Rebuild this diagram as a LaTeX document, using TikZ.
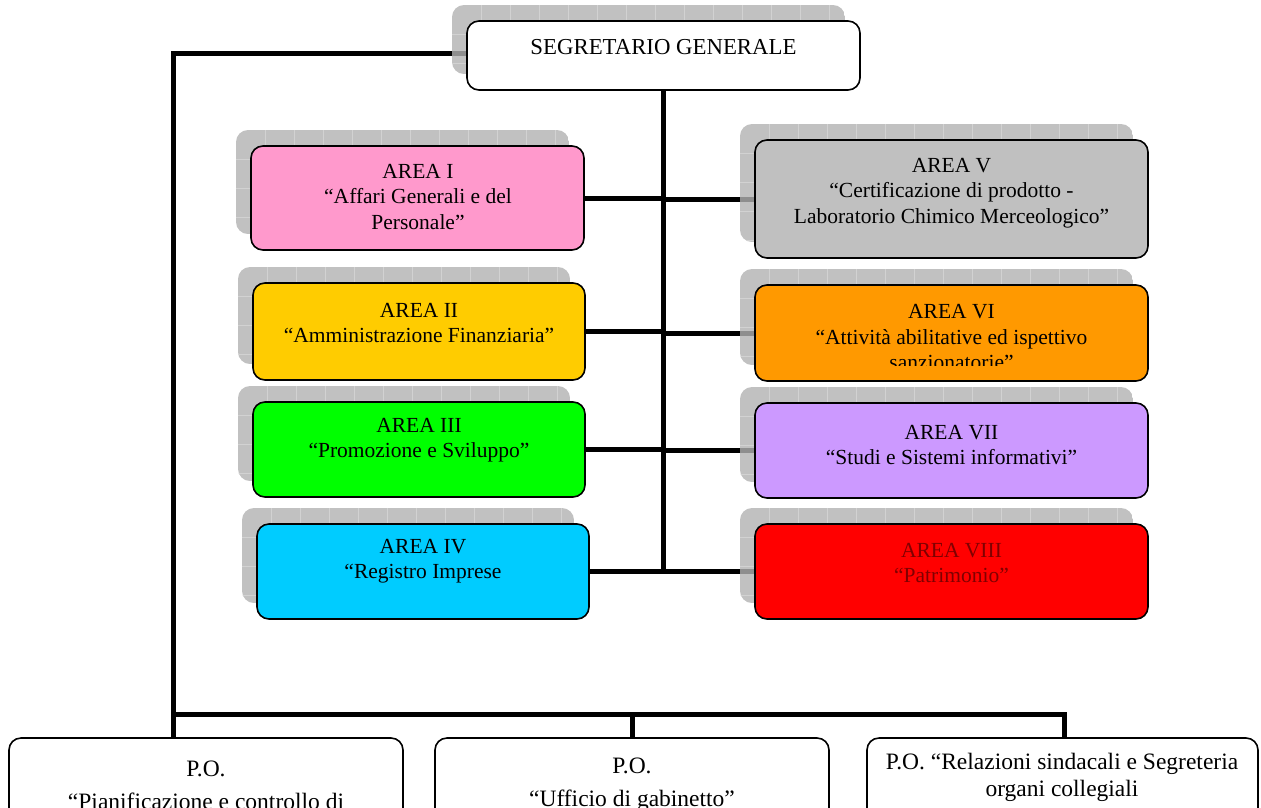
\documentclass[tikz,border=0pt]{standalone}
\usepackage{fontspec}
\setmainfont{Liberation Serif}
\usetikzlibrary{calc}
\pgfdeclarelayer{bg}
\pgfdeclarelayer{shade}
\pgfsetlayers{bg,shade,main}
\definecolor{cpink}{HTML}{FF99CC}
\definecolor{cyellow}{HTML}{FFCC00}
\definecolor{cgreen}{HTML}{00FF00}
\definecolor{ccyan}{HTML}{00CCFF}
\definecolor{cgrey}{HTML}{C0C0C0}
\definecolor{corange}{HTML}{FF9900}
\definecolor{cviolet}{HTML}{CC99FF}
\definecolor{cred}{HTML}{FF0000}
\definecolor{cdarkred}{HTML}{800000}
\definecolor{shadowgray}{HTML}{B2B2B2}
\definecolor{gridgray}{HTML}{D2D2D2}
\tikzset{
  box/.style={draw=black, line width=1.6pt, rounded corners=12pt, inner sep=0pt, outer sep=0pt},
  conn/.style={line width=5pt, line join=miter},
  lbl/.style={font=\fontsize{21.5}{25.5}\selectfont, align=center, inner sep=0pt, text=black},
  sglbl/.style={font=\fontsize{22.8}{26}\selectfont, align=center, inner sep=0pt, text=black},
  polbl/.style={font=\fontsize{23.5}{27}\selectfont, align=center, inner sep=0pt, text=black},
}
\newcommand{\shadowof}[1]{%
  \begin{scope}
    \clip[rounded corners=12pt] ($(#1.north west)+(-15,-16)$) rectangle ($(#1.south east)+(-15,-16)$);
    \fill[shadowgray, opacity=0.8] ($(#1.north west)+(-15,-16)$) rectangle ($(#1.south east)+(-15,-16)$);
    \begin{scope}[shift={($(#1.north west)+(-15,-16)$)}]
      \foreach \k in {1,...,14} \draw[gridgray, line width=0.8pt] (29*\k,0) -- (29*\k,140);
      \foreach \k in {1,...,4} \draw[gridgray, line width=0.8pt] (0,29*\k) -- (420,29*\k);
    \end{scope}
  \end{scope}}
\begin{document}
\begin{tikzpicture}[x=1pt, y=-1pt]
\useasboundingbox (0,0) rectangle (1261,807);
\clip (0,0) rectangle (1261,807);

% boxes
\node[box, fill=white,   minimum width=393pt, minimum height=69pt]  (sg) at (663.5,55.5) {};
\node[box, fill=cpink,   minimum width=333pt, minimum height=104pt] (a1) at (417.5,198) {};
\node[box, fill=cyellow, minimum width=332pt, minimum height=97pt]  (a2) at (419,331.5) {};
\node[box, fill=cgreen,  minimum width=332pt, minimum height=95pt]  (a3) at (419,449.5) {};
\node[box, fill=ccyan,   minimum width=332pt, minimum height=95pt]  (a4) at (423,571.5) {};
\node[box, fill=cgrey,   minimum width=393pt, minimum height=118pt] (a5) at (951.5,199) {};
\node[box, fill=corange, minimum width=393pt, minimum height=96pt]  (a6) at (951.5,333) {};
\node[box, fill=cviolet, minimum width=393pt, minimum height=95pt]  (a7) at (951.5,450.5) {};
\node[box, fill=cred,    minimum width=393pt, minimum height=95pt]  (a8) at (951.5,571.5) {};
\node[box, fill=white,   minimum width=394pt, minimum height=102pt] (po1) at (206,789) {};
\node[box, fill=white,   minimum width=394pt, minimum height=102pt] (po2) at (632,789) {};
\node[box, fill=white,   minimum width=391pt, minimum height=102pt] (po3) at (1062.5,789) {};

% texts
\node[sglbl] (tsg) at (663.5,47.5) {SEGRETARIO GENERALE};
\node[lbl] (t1) at (418,197) {AREA I\\“Affari Generali e del\\Personale”};
\node[lbl] (t2) at (419,323) {AREA II\\“Amministrazione Finanziaria”};
\node[lbl] (t3) at (419,440) {AREA III\\“Promozione e Sviluppo”};
\node[lbl] (t4) at (423,561) {AREA IV\\“Registro Imprese};
\node[lbl] (t5) at (951.5,193) {AREA V\\“Certificazione di prodotto -\\Laboratorio Chimico Merceologico”};
\begin{scope}
  \clip (a6.north west) rectangle ($(a6.south east)+(0,-16)$);
  \node[lbl] (t6) at (951.5,337) {AREA VI\\“Attività abilitative ed ispettivo\\sanzionatorie”};
\end{scope}
\node[lbl] (t7) at (951.5,445) {AREA VII\\“Studi e Sistemi informativi”};
\node[lbl, text=cdarkred] (t8) at (951.5,563) {AREA VIII\\“Patrimonio”};
\node[polbl] (tp1) at (206,785) {P.O.\\[6pt]“Pianificazione e controllo di};
\node[polbl] (tp2) at (632,785) {P.O.\\[6pt]“Ufficio di gabinetto”};
\node[polbl] (tp3) at (1062,777) {P.O. “Relazioni sindacali e Segreteria\\organi collegiali};

% shadows
\begin{pgfonlayer}{shade}
  \shadowof{sg}
  \shadowof{a1}\shadowof{a2}\shadowof{a3}\shadowof{a4}
  \shadowof{a5}\shadowof{a6}\shadowof{a7}\shadowof{a8}
\end{pgfonlayer}

% connectors
\begin{pgfonlayer}{bg}
  \coordinate (lc) at (173,53);
  \coordinate (bus) at (173,714);
  \coordinate (d3) at ($(po3.north)+(1.5,0)$);
  \draw[conn] (sg.south) -- (sg.south |- a4.east);
  \draw[conn] (a1.east) -- (a1.east -| sg.south);
  \draw[conn] (sg.south |- a5.west) -- (a5.west);
  \draw[conn] (a2.east) -- (a2.east -| sg.south);
  \draw[conn] (sg.south |- a6.west) -- (a6.west);
  \draw[conn] (a3.east) -- (a3.east -| sg.south);
  \draw[conn] (sg.south |- a7.west) -- (a7.west);
  \draw[conn] (a4.east) -- (a8.west);
  \draw[conn] (sg.west |- lc) -- (lc) -- (lc |- po1.north);
  \draw[conn] (bus) -- (d3 |- bus) -- (d3);
  \draw[conn] (po2.north |- bus) -- (po2.north);
\end{pgfonlayer}
\end{tikzpicture}
\end{document}
